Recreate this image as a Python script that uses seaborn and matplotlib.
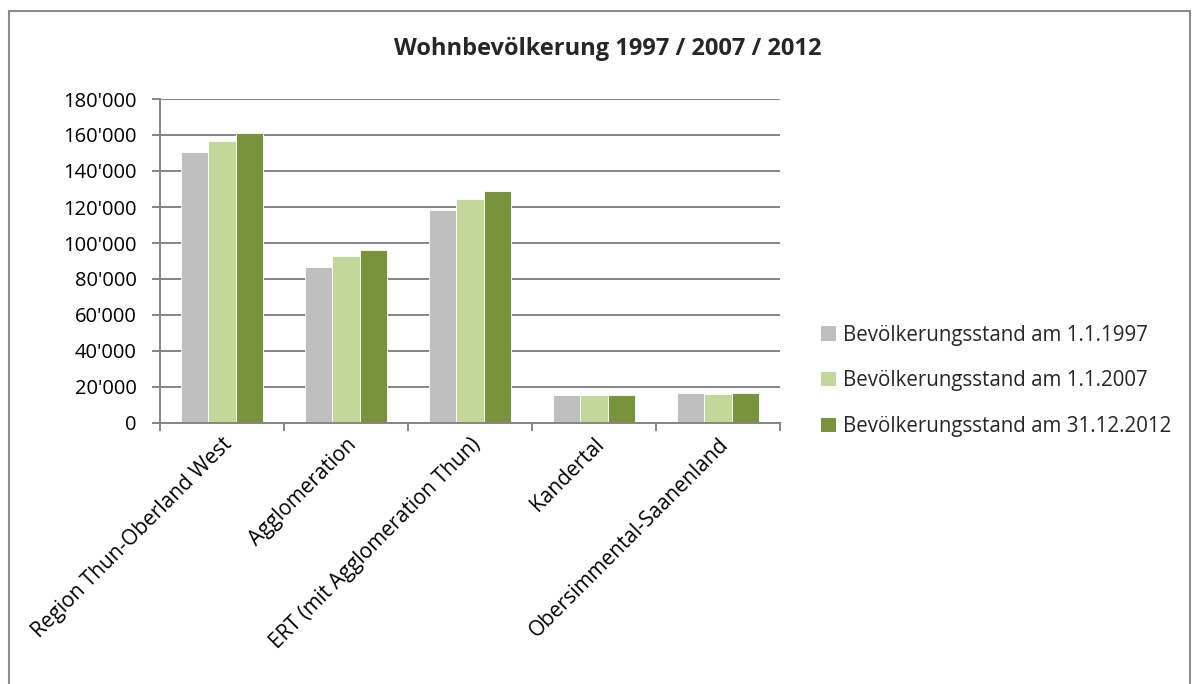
import matplotlib
matplotlib.use("Agg")
import matplotlib.pyplot as plt
from matplotlib.patches import Rectangle
from matplotlib.ticker import FuncFormatter, FixedLocator
import seaborn as sns
import pandas as pd

regions = [
    "Region Thun-Oberland West",
    "Agglomeration",
    "ERT (mit Agglomeration Thun)",
    "Kandertal",
    "Obersimmental-Saanenland",
]
series_names = [
    "Bevölkerungsstand am 1.1.1997",
    "Bevölkerungsstand am 1.1.2007",
    "Bevölkerungsstand am 31.12.2012",
]
pop_1997 = [150700, 86700, 118200, 15600, 16850]
pop_2007 = [156700, 92600, 124400, 15600, 16300]
pop_2012 = [160900, 95900, 128700, 15650, 16500]
colors = ["#BFBFBF", "#C4D79B", "#77933C"]
y_ticks = [0, 20000, 40000, 60000, 80000, 100000, 120000, 140000, 160000, 180000]

df = pd.DataFrame({
    "Region": regions * 3,
    "Serie": [series_names[0]] * 5 + [series_names[1]] * 5 + [series_names[2]] * 5,
    "Wert": pop_1997 + pop_2007 + pop_2012,
})

sns.set_theme(style="white")
plt.rcParams["font.family"] = ["Open Sans", "DejaVu Sans"]

fig = plt.figure(figsize=(11.92, 6.84), dpi=100)
ax = fig.add_axes([160 / 1192, 1 - 423 / 684, 620 / 1192, 324 / 684])

sns.barplot(data=df, x="Region", y="Wert", hue="Serie", hue_order=series_names,
            order=regions, palette=colors, width=0.66, saturation=1,
            edgecolor="white", linewidth=0.6, ax=ax, errorbar=None)

grid_col = "#858585"
ax.set_ylim(0, 180000)
ax.set_xlim(-0.5, len(regions) - 0.5)
ax.yaxis.set_major_locator(FixedLocator(y_ticks))
ax.yaxis.set_major_formatter(FuncFormatter(lambda v, p: f"{int(v):,}".replace(",", "'")))
ax.yaxis.grid(True, color=grid_col, linewidth=1.4)
ax.set_axisbelow(True)

for side in ["top", "right"]:
    ax.spines[side].set_visible(False)
for side in ["left", "bottom"]:
    ax.spines[side].set_color(grid_col)
    ax.spines[side].set_linewidth(1.4)

ax.tick_params(axis="y", which="major", length=6, width=1.4, color=grid_col,
               direction="out", left=True, labelsize=14.5, pad=11, labelcolor="black")
ax.tick_params(axis="x", which="major", length=0, labelsize=15, pad=8, labelcolor="black")
ax.set_xticks([i - 0.5 for i in range(len(regions) + 1)], minor=True)
ax.tick_params(axis="x", which="minor", length=6, width=1.4, color=grid_col,
               direction="out", bottom=True)
ax.set_xticks(range(len(regions)))
ax.set_xticklabels(regions, rotation=45, ha="right", va="top", rotation_mode="anchor")
ax.set_xlabel("")
ax.set_ylabel("")

leg = ax.legend(loc="center left", bbox_to_anchor=(813 / 1192, 1 - 381 / 684),
                bbox_transform=fig.transFigure, frameon=False, fontsize=14.8,
                handlelength=0.7, handleheight=0.7, handletextpad=0.35,
                labelspacing=1.2, borderaxespad=0)
for h in leg.legend_handles:
    h.set_edgecolor("none")

fig.text(608 / 1192, 1 - 49 / 684, "Wohnbevölkerung 1997 / 2007 / 2012",
         ha="center", va="center", fontsize=17, fontweight="bold")

fig.patches.append(Rectangle((9 / 1192, -0.05), 1181 / 1192, 1 - 11 / 684 + 0.05,
                             transform=fig.transFigure, fill=False,
                             edgecolor="#8C8C8C", linewidth=1.5))

fig.savefig("out.png", dpi=100)
